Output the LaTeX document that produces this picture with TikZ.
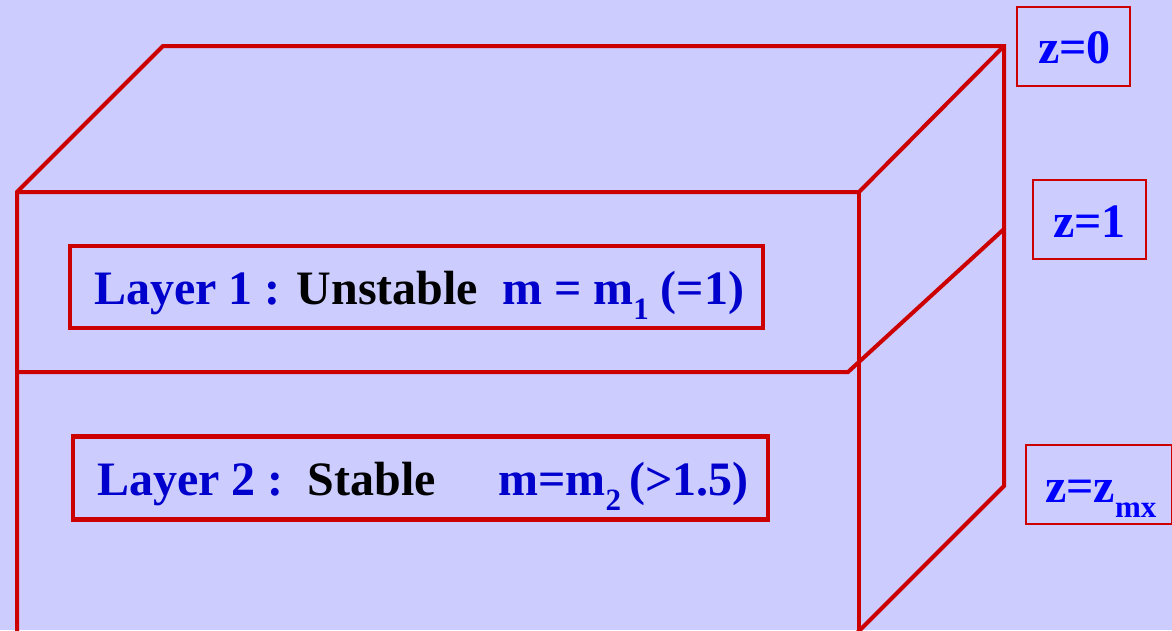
\documentclass[tikz,border=0pt]{standalone}
\usepackage{fontspec}
\setmainfont{Liberation Serif}
\definecolor{bgblue}{HTML}{CCCCFF}
\definecolor{edgered}{HTML}{CC0000}
\definecolor{labelblue}{HTML}{0000CC}
\definecolor{zblue}{HTML}{0000FF}
\newcommand{\lowsub}[1]{\raisebox{-0.32em}{\fontsize{31}{31}\selectfont #1}}
\tikzset{
  edge/.style={draw=edgered, line width=4pt, line join=miter},
  layerbox/.style={draw=edgered, line width=4.5pt, inner sep=0pt, anchor=center},
  zbox/.style={draw=edgered, line width=2pt, inner sep=0pt, anchor=center,
    minimum width=113pt, minimum height=79pt},
  bigtext/.style={inner sep=0pt, anchor=base west,
    font=\fontsize{48}{56}\selectfont\bfseries},
}
\begin{document}
\begin{tikzpicture}[x=1pt, y=-1pt]
  \fill[bgblue] (0,0) rectangle (1172,630);
  \useasboundingbox (0,0) rectangle (1172,630);

  % corners of the block
  \coordinate (flt) at (17,192);
  \coordinate (flb) at (17,632);
  \coordinate (frt) at (859,192);
  \coordinate (frb) at (859,632);
  \coordinate (blt) at (163,46);
  \coordinate (brt) at (1004,46);
  \coordinate (brb) at (1004,486);
  \coordinate (brbx) at (857,633);
  % boundary between the two layers
  \coordinate (ml) at (17,372);
  \coordinate (mr) at (848,372);
  \coordinate (mb) at (1004,229);

  % block outline
  \draw[edge] (flb) -- (flt) -- (blt) -- (brt) -- (brb) -- (brbx);
  \draw[edge] (flt) -- (frt) -- (brt);
  \draw[edge] (frt) -- (frb);
  \draw[edge] (ml) -- (mr) -- (mb);

  % layer labels
  \node[layerbox, minimum width=693pt, minimum height=82pt] (layer1) at (416.5,287) {};
  \node[bigtext, text=labelblue] (layer1text) at (94,304)
    {Layer 1 : \textcolor{black}{Unstable}\hspace{0.5em}m = m\lowsub{1} (=1)};
  \node[layerbox, minimum width=695pt, minimum height=83pt] (layer2) at (420.5,478) {};
  \node[bigtext, text=labelblue] (layer2text) at (97,495)
    {Layer 2 :\hspace{0.5em}\textcolor{black}{Stable}\hspace{1.3em}m=m\lowsub{2}\,(>1.5)};

  % depth labels
  \node[zbox] (z0) at (1073.5,46.5) {};
  \node[bigtext, text=zblue] (z0text) at (1038,63) {z=0};
  \node[zbox] (z1) at (1089.5,219.5) {};
  \node[bigtext, text=zblue] (z1text) at (1053,237) {z=1};
  \node[zbox, minimum width=146pt, anchor=west] (zmx) at (1025,484.5) {};
  \node[bigtext, text=zblue] (zmxtext) at (1045,502) {z=z\lowsub{mx}};
\end{tikzpicture}
\end{document}
